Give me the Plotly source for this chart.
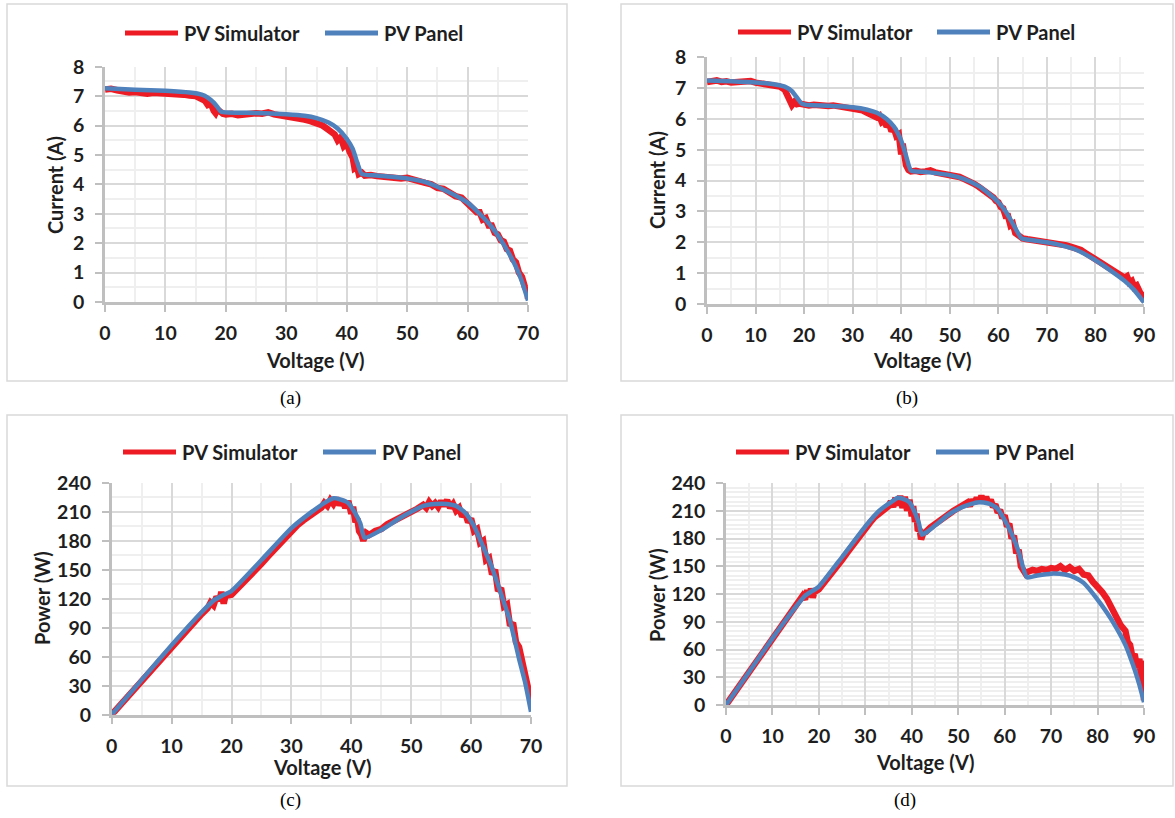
import plotly.graph_objects as go

W, H = 1175, 818

# ---------------- data ----------------
# (a) I-V, 70 V string
panel_a_v = [0, 5, 10, 14, 16, 17, 18, 18.7, 19.2, 25, 30, 33, 35, 37, 38.5, 40, 41, 41.8, 42.5, 45, 50, 53, 55, 58, 60, 62, 64, 66, 68, 69, 70]
panel_a_i = [7.27, 7.22, 7.18, 7.12, 7.05, 6.95, 6.78, 6.6, 6.47, 6.43, 6.38, 6.33, 6.25, 6.1, 5.9, 5.55, 5.2, 4.7, 4.35, 4.3, 4.2, 4.08, 3.92, 3.62, 3.38, 3.0, 2.55, 1.95, 1.2, 0.7, 0.05]
sim_a = [(0, 7.22), (1, 7.25), (2, 7.2), (3, 7.15), (4, 7.12), (5, 7.14), (6, 7.1), (7, 7.08), (8, 7.11), (9, 7.1),
         (10, 7.12), (11, 7.1), (12, 7.07), (13, 7.05), (14, 7.02), (15, 7.0), (16, 6.9), (16.5, 6.85), (17, 6.7), (17.5, 6.75),
         (18, 6.5), (18.3, 6.42), (18.6, 6.55), (19, 6.45), (19.5, 6.4), (20, 6.38), (21, 6.4), (22, 6.35), (23, 6.38), (24, 6.4),
         (25, 6.42), (26, 6.4), (27, 6.45), (28, 6.38), (29, 6.35), (30, 6.33), (31, 6.3), (32, 6.28), (33, 6.2), (34, 6.15),
         (35, 6.1), (36, 6.0), (37, 5.85), (38, 5.7), (38.5, 5.5), (39, 5.6), (39.5, 5.3), (40, 5.4), (40.5, 5.1), (41, 4.9),
         (41.3, 4.55), (41.7, 4.6), (42, 4.35), (42.5, 4.4), (43, 4.3), (44, 4.32), (45, 4.28), (46, 4.25), (47, 4.27), (48, 4.22),
         (49, 4.2), (50, 4.22), (51, 4.18), (52, 4.12), (53, 4.05), (54, 4.0), (55, 3.88), (56, 3.85), (57, 3.7), (58, 3.6),
         (59, 3.55), (60, 3.35), (60.5, 3.3), (61, 3.2), (61.5, 3.05), (62, 3.05), (62.5, 2.8), (63, 2.85), (63.5, 2.6), (64, 2.6),
         (64.5, 2.35), (65, 2.3), (65.5, 2.1), (66, 2.05), (66.5, 1.8), (67, 1.75), (67.5, 1.45), (68, 1.35), (68.5, 1.0), (69, 0.85),
         (69.5, 0.5), (70, 0.35), (70, 0.1)]

# (b) I-V, 90 V string
panel_b_v = [0, 5, 10, 14, 16, 17.5, 18.5, 19.5, 21, 25, 30, 33, 35, 37, 38.5, 40, 41, 42, 45, 50, 53, 56, 58, 60, 61.5, 63, 64.8, 67, 70, 73, 76, 80, 83, 86, 88, 90]
panel_b_i = [7.25, 7.22, 7.18, 7.12, 7.05, 6.9, 6.7, 6.5, 6.45, 6.43, 6.38, 6.3, 6.2, 6.0, 5.75, 5.3, 4.8, 4.33, 4.28, 4.18, 4.05, 3.82, 3.58, 3.3, 3.0, 2.6, 2.13, 2.07, 2.0, 1.9, 1.76, 1.42, 1.1, 0.75, 0.45, 0.05]
sim_b = [(0, 7.2), (1, 7.22), (2, 7.25), (3, 7.2), (4, 7.22), (5, 7.18), (6, 7.2), (7, 7.17), (8, 7.2), (9, 7.23),
         (10, 7.18), (11, 7.16), (12, 7.12), (13, 7.13), (14, 7.1), (15, 7.05), (16, 6.95), (16.5, 6.8), (17, 6.6), (17.5, 6.45),
         (18, 6.55), (18.5, 6.48), (19, 6.5), (20, 6.45), (21, 6.44), (22, 6.46), (23, 6.43), (24, 6.45), (25, 6.42), (26, 6.44),
         (27, 6.42), (28, 6.4), (29, 6.38), (30, 6.35), (31, 6.3), (32, 6.28), (33, 6.2), (34, 6.15), (35, 6.05), (35.5, 6.1),
         (36, 5.9), (36.5, 5.95), (37, 5.75), (37.5, 5.85), (38, 5.6), (38.5, 5.7), (39, 5.45), (39.5, 5.5), (40, 4.85), (40.3, 5.2),
         (40.7, 4.7), (41, 4.5), (41.5, 4.35), (42, 4.3), (43, 4.32), (44, 4.28), (45, 4.3), (46, 4.33), (47, 4.27), (48, 4.25),
         (49, 4.22), (50, 4.2), (51, 4.18), (52, 4.12), (53, 4.05), (54, 4.0), (55, 3.9), (56, 3.8), (57, 3.7), (58, 3.55),
         (59, 3.45), (59.5, 3.35), (60, 3.3), (60.5, 3.15), (61, 3.1), (61.5, 2.85), (62, 2.85), (62.5, 2.55), (63, 2.6), (63.5, 2.3),
         (64, 2.25), (64.5, 2.15), (65, 2.13), (66, 2.1), (67, 2.08), (68, 2.05), (69, 2.05), (70, 2.03), (71, 2.0), (72, 1.98), (73, 1.95),
         (74, 1.9), (75, 1.85), (76, 1.82), (77, 1.75), (78, 1.65), (79, 1.55), (80, 1.5), (81, 1.4), (82, 1.3), (83, 1.2),
         (84, 1.1), (85, 1.0), (86, 0.85), (86.5, 0.9), (87, 0.7), (87.5, 0.75), (88, 0.55), (88.5, 0.6), (89, 0.45), (89.5, 0.3),
         (90, 0.1), (90, 0.4)]

# (c) P-V, 70 V string
panel_c_v = [0, 5, 10, 15, 17, 18.7, 20, 25, 30, 33, 36, 37, 38, 39.5, 40.5, 41.5, 42.2, 45, 48, 50, 52, 54, 56, 57.5, 59, 60.5, 62, 63.5, 65, 66.5, 68, 69, 70]
panel_c_p = [0, 36, 72, 106, 118, 124, 128, 160, 193, 208, 221, 224, 223, 219, 210, 198, 183, 191, 203, 210, 216, 218, 218, 216, 209, 195, 174, 152, 125, 97, 58, 34, 3]
sim_c = [(0, 0), (2, 14), (4, 28), (6, 42), (8, 57), (10, 71), (12, 84), (14, 98), (15, 104), (16, 110),
         (16.5, 116), (17, 113), (17.5, 122), (18, 118), (18.3, 127), (18.7, 115), (19, 123), (20, 124), (21, 130), (22, 136),
         (23, 143), (24, 150), (25, 156), (26, 163), (27, 170), (28, 176), (29, 183), (30, 190), (31, 196), (32, 201),
         (33, 206), (34, 211), (35, 214), (35.5, 219), (36, 216), (36.5, 222), (37, 218), (37.5, 224), (38, 217), (38.5, 222),
         (39, 214), (39.5, 221), (40, 208), (40.3, 215), (40.7, 199), (41, 203), (41.3, 190), (41.7, 186), (42, 180), (42.5, 188),
         (43, 186), (44, 190), (45, 192), (46, 197), (47, 200), (48, 204), (49, 207), (50, 210), (51, 213), (52, 217),
         (52.5, 214), (53, 220), (53.5, 216), (54, 219), (54.5, 215), (55, 221), (55.5, 216), (56, 222), (56.5, 214), (57, 218),
         (57.5, 211), (58, 214), (58.5, 205), (59, 209), (59.5, 199), (60, 203), (60.5, 190), (61, 192), (61.5, 178), (62, 180),
         (62.5, 160), (63, 162), (63.5, 145), (64, 150), (64.5, 128), (65, 131), (65.5, 112), (66, 114), (66.5, 92), (67, 95),
         (67.5, 75), (68, 70), (68.5, 55), (69, 45), (69.3, 32), (69.6, 25), (70, 28), (70, 15)]

# (d) P-V, 90 V string
panel_d_v = [0, 5, 10, 15, 17, 18.5, 20, 25, 30, 33, 36, 37, 38, 39.5, 40.5, 41.5, 42.2, 45, 48, 50, 52, 54, 55.5, 57, 58.5, 60, 61.5, 63, 64.8, 67, 70, 73, 75, 77, 80, 82, 84, 86, 88, 89, 90]
panel_d_p = [0, 36, 72, 106, 118, 123, 128, 160, 193, 210, 221, 224, 223, 219, 210, 197, 184, 194, 206, 212, 216, 219, 219, 217, 212, 200, 185, 166, 138, 140, 142, 141, 138, 132, 114, 100, 84, 65, 38, 22, 3]
sim_d = [(0, 0), (2, 14), (4, 28), (6, 43), (8, 57), (10, 71), (12, 85), (14, 99), (15, 105), (16, 112),
         (16.5, 118), (17, 114), (17.5, 124), (18, 117), (18.3, 126), (18.7, 116), (19, 122), (20, 125), (21, 131), (22, 137),
         (23, 144), (24, 151), (25, 157), (26, 164), (27, 171), (28, 177), (29, 184), (30, 191), (31, 197), (32, 203),
         (33, 207), (34, 212), (35, 215), (35.5, 220), (36, 214), (36.5, 224), (37, 216), (37.5, 226), (38, 213), (38.5, 225),
         (39, 210), (39.5, 222), (40, 204), (40.3, 215), (40.7, 198), (41, 207), (41.3, 188), (41.7, 190), (42, 179), (42.5, 186),
         (43, 187), (44, 192), (45, 196), (46, 199), (47, 203), (48, 207), (49, 210), (50, 213), (51, 216), (52, 219),
         (52.5, 215), (53, 222), (53.5, 218), (54, 224), (54.5, 219), (55, 226), (55.5, 220), (56, 225), (56.5, 218), (57, 222),
         (57.5, 214), (58, 217), (58.5, 208), (59, 211), (59.5, 202), (60, 205), (60.5, 193), (61, 196), (61.5, 180), (62, 183),
         (62.5, 164), (63, 168), (63.5, 150), (64, 147), (64.5, 142), (65, 144), (66, 146), (67, 145), (68, 147), (69, 146),
         (70, 148), (71, 147), (72, 150), (73, 146), (74, 149), (75, 145), (76, 147), (77, 141), (78, 140), (79, 133),
         (80, 128), (81, 122), (82, 115), (83, 105), (84, 98), (85, 86), (86, 80), (86.5, 68), (87, 65), (87.5, 52),
         (88, 55), (88.5, 40), (89, 50), (89.5, 22), (90, 48), (90, 5)]

series_names = ["PV Simulator", "PV Panel"]
x_title = "Voltage (V)"
y_titles = ["Current (A)", "Current (A)", "Power (W)", "Power (W)"]
captions = ["(a)", "(b)", "(c)", "(d)"]
x_ranges = [70, 90, 70, 90]
y_ranges = [8, 8, 240, 240]
y_major = [1, 1, 30, 30]
y_minor = [0.5, 0.5, 15, 5]

# ---------------- styling ----------------
RED = "#ED1C24"
BLUE = "#4F81BD"
TXT = "#1e1e1e"
FONT = "Lato"
AXC = "#BFBFBF"
GRID = "#D9D9D9"
MINOR = "#EFEFEF"


def px(x):
    return x / W


def py(y):
    return 1 - y / H


# plot-area pixel boxes (left, top, right, bottom)
areas = [(105, 66.7, 528, 302), (707, 57.3, 1144, 304),
         (111.7, 482.7, 531, 714.7), (726, 483, 1144, 705)]
# outer frame boxes
frames = [(7, 4, 567, 381), (621, 4, 1173, 381), (7, 415, 567, 786), (621, 415, 1173, 786)]
# legend: y, red line start, blue line start
legends = [(33, 125, 325), (32, 738, 937), (452, 123, 323), (452, 736, 936)]
caption_pos = [(290, 398), (907, 398), (290, 800), (905, 800)]
xtitle_pos = [(315, 360), (922, 360), (322, 767), (925, 762)]
ytitle_pos = [(55, 185), (657, 180), (42, 598), (657, 595)]

panels = [(panel_a_v, panel_a_i, sim_a), (panel_b_v, panel_b_i, sim_b),
          (panel_c_v, panel_c_p, sim_c), (panel_d_v, panel_d_p, sim_d)]

fig = go.Figure()
layout = dict(template="none", width=W, height=H, autosize=False,
              margin=dict(l=0, r=0, t=0, b=0, pad=0, autoexpand=False),
              paper_bgcolor="white", plot_bgcolor="white", showlegend=False)
shapes = []
annotations = []
FS_TICK = 19.5
FS = 20

for k, (bv, by, sim) in enumerate(panels):
    sfx = "" if k == 0 else str(k + 1)
    xa, ya = "x" + sfx, "y" + sfx
    sv = [p[0] for p in sim]
    si = [p[1] for p in sim]
    fig.add_trace(go.Scatter(x=sv, y=si, mode="lines", name=series_names[0],
                             line=dict(color=RED, width=6.5), xaxis=xa, yaxis=ya, cliponaxis=False))
    fig.add_trace(go.Scatter(x=bv, y=by, mode="lines", name=series_names[1],
                             line=dict(color=BLUE, width=4.5, shape="spline", smoothing=0.5),
                             xaxis=xa, yaxis=ya, cliponaxis=False))
    l, t, r, b = areas[k]
    tickfont = dict(family=FONT, size=FS_TICK, color=TXT, weight="bold")
    layout["xaxis" + sfx] = dict(
        domain=[px(l), px(r)], anchor=ya, range=[0, x_ranges[k]], dtick=10, tick0=0,
        automargin=False,
        showgrid=True, gridcolor=GRID, gridwidth=1.5, zeroline=False,
        showline=True, linecolor=AXC, linewidth=2.5,
        ticks="outside", ticklen=7, tickcolor=AXC, tickwidth=1.5,
        tickfont=tickfont, ticklabelstandoff=5,
        minor=dict(dtick=5, tick0=0, showgrid=True, gridcolor=MINOR, gridwidth=1.5, ticks=""),
        fixedrange=True)
    layout["yaxis" + sfx] = dict(
        domain=[py(b), py(t)], anchor=xa, range=[0, y_ranges[k]], dtick=y_major[k], tick0=0,
        automargin=False,
        showgrid=True, gridcolor=GRID, gridwidth=1.5, zeroline=False,
        showline=True, linecolor=AXC, linewidth=2.5,
        ticks="outside", ticklen=7, tickcolor=AXC, tickwidth=1.5,
        tickfont=tickfont, ticklabelstandoff=7,
        minor=dict(dtick=y_minor[k], tick0=0, showgrid=True, gridcolor=MINOR, gridwidth=1.5, ticks=""),
        fixedrange=True)

    fl, ft, fr, fb = frames[k]
    shapes.append(dict(type="rect", xref="paper", yref="paper", x0=px(fl), x1=px(fr), y0=py(fb), y1=py(ft),
                       line=dict(color="#D9D9D9", width=1.5), layer="below"))
    ly, rx, bx = legends[k]
    shapes.append(dict(type="line", xref="paper", yref="paper", x0=px(rx), x1=px(rx + 53), y0=py(ly), y1=py(ly),
                       line=dict(color=RED, width=5)))
    shapes.append(dict(type="line", xref="paper", yref="paper", x0=px(bx), x1=px(bx + 53), y0=py(ly), y1=py(ly),
                       line=dict(color=BLUE, width=5)))
    leg_font = dict(family=FONT, size=FS, color=TXT, weight="bold")
    annotations.append(dict(text=series_names[0], xref="paper", yref="paper", x=px(rx + 57), y=py(ly),
                            xanchor="left", yanchor="middle", showarrow=False, font=leg_font))
    annotations.append(dict(text=series_names[1], xref="paper", yref="paper", x=px(bx + 57), y=py(ly),
                            xanchor="left", yanchor="middle", showarrow=False, font=leg_font))
    cx, cy = caption_pos[k]
    annotations.append(dict(text=captions[k], xref="paper", yref="paper", x=px(cx), y=py(cy),
                            xanchor="center", yanchor="middle", showarrow=False,
                            font=dict(family="Liberation Serif", size=19, color="#000000")))
    tx, ty = xtitle_pos[k]
    annotations.append(dict(text=x_title, xref="paper", yref="paper", x=px(tx), y=py(ty),
                            xanchor="center", yanchor="middle", showarrow=False, font=leg_font))
    yx, yy = ytitle_pos[k]
    annotations.append(dict(text=y_titles[k], xref="paper", yref="paper", x=px(yx), y=py(yy),
                            xanchor="center", yanchor="middle", showarrow=False, textangle=-90, font=leg_font))

layout["shapes"] = shapes
layout["annotations"] = annotations
fig.update_layout(**layout)
# the page body has an 8px default margin; remove it so the figure sits at the window's origin
fig.write_html("out.html", config={"displayModeBar": False},
               post_script="document.body.style.margin='0';document.body.style.overflow='hidden';")
